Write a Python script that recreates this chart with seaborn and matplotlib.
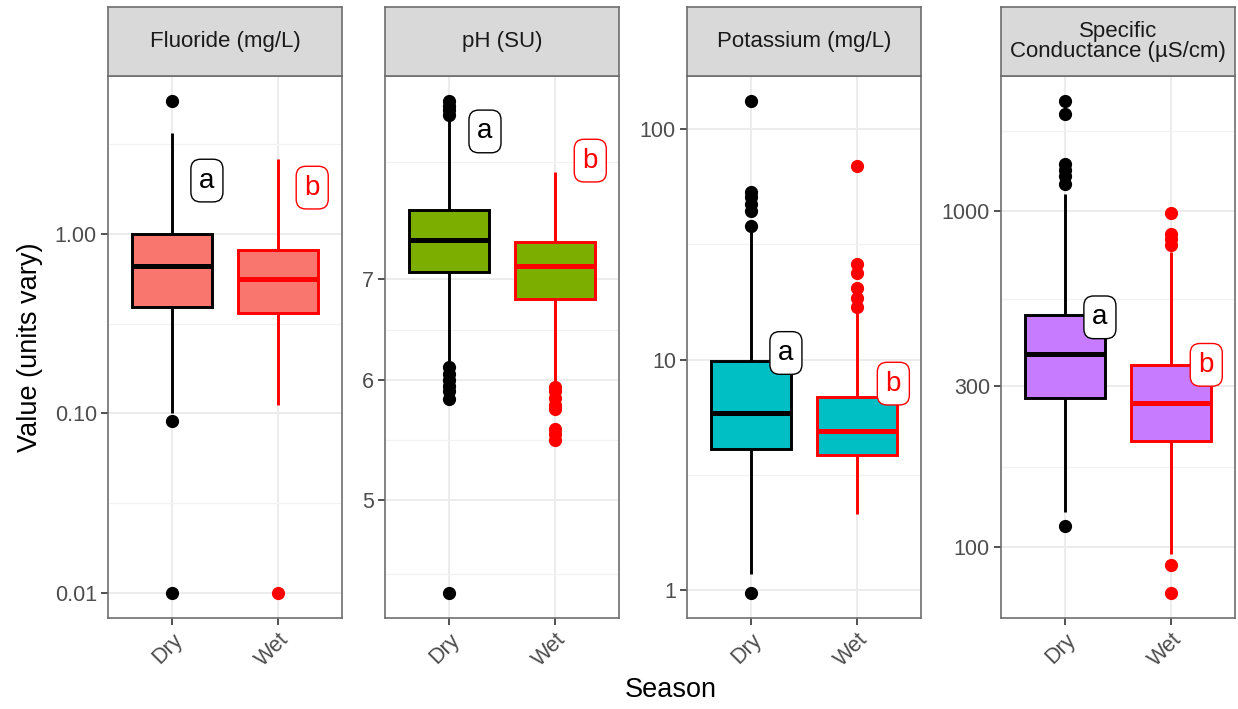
"""Season boxplots of four water-quality parameters, faceted ggplot-style."""

import matplotlib

matplotlib.use("Agg")

import matplotlib.pyplot as plt
import numpy as np
import pandas as pd
import seaborn as sns

SEASONS = ["Dry", "Wet"]
PANEL_TITLES = ["Fluoride (mg/L)", "pH (SU)", "Potassium (mg/L)", "Specific\nConductance (\u00b5S/cm)"]
FILLS = ["#F8766D", "#7CAE00", "#00BFC4", "#C77CFF"]
EDGES = ["black", "#FF0000"]

# (lower whisker, q1, median, q3, upper whisker) per season
fluoride_dry = [0.100, 0.393, 0.656, 0.99, 3.6]
fluoride_wet = [0.111, 0.36, 0.562, 0.805, 2.58]
ph_dry = [6.17, 7.07, 7.43, 7.77, 8.92]
ph_wet = [5.98, 6.79, 7.14, 7.40, 8.23]
potassium_dry = [1.18, 4.12, 5.85, 9.9, 36.2]
potassium_wet = [2.14, 3.85, 4.89, 6.92, 16.1]
cond_dry = [127, 278, 375, 490, 1120]
cond_wet = [95, 206, 267, 348, 756]

# outlying points
fluoride_dry_out = [0.01, 0.0903, 5.48]
fluoride_wet_out = [0.01]
ph_dry_out = [4.34, 5.83, 5.9, 5.95, 6.0, 6.06, 6.12, 8.98, 9.05, 9.1, 9.18]
ph_wet_out = [5.48, 5.53, 5.57, 5.74, 5.78, 5.84, 5.9, 5.94]
potassium_dry_out = [0.97, 38.1, 44.2, 47.4, 51.0, 53.4, 133]
potassium_wet_out = [16.9, 18.5, 20.5, 23.8, 26.0, 69]
cond_dry_out = [115, 1202, 1269, 1322, 1377, 1950, 2130]
cond_wet_out = [72.6, 88, 790, 826, 855, 987]

# significance letters: (x position, y value)
letter_text = ["a", "b"]
fluoride_letters = [(0.33, 1.97), (1.32, 1.8)]
ph_letters = [(0.34, 8.76), (1.33, 8.38)]
potassium_letters = [(0.33, 10.7), (1.34, 7.88)]
cond_letters = [(0.33, 482), (1.33, 348)]

# y breaks (labels) and the break sequence used for minor grid lines
fluoride_breaks = ([0.01, 0.1, 1.0], ["0.01", "0.10", "1.00"], [0.001, 0.01, 0.1, 1, 10])
ph_breaks = ([5, 6, 7], ["5", "6", "7"], [4, 5, 6, 7, 10])
potassium_breaks = ([1, 10, 100], ["1", "10", "100"], [0.1, 1, 10, 100, 1000])
cond_breaks = ([100, 300, 1000], ["100", "300", "1000"], [30, 100, 300, 1000, 3000])


def _sample(summary, outliers):
    """Smallest sample whose boxplot stats are exactly the given summary."""
    lo, q1, med, q3, hi = summary
    below = sorted(v for v in outliers if v < lo)
    above = sorted(v for v in outliers if v > hi)
    k = max(len(below), len(above)) + 1
    return (below + [lo] + [q1] * (k - len(below)) + [med] * k
            + [q3] * (2 * k - len(above) - 1) + [hi] + above)


def _log_limits(values, pad=0.05):
    lo, hi = np.log10(min(values)), np.log10(max(values))
    span = hi - lo
    return 10 ** (lo - pad * span), 10 ** (hi + pad * span)


sns.set_theme(style="white")
plt.rcParams["font.family"] = ["Liberation Sans", "DejaVu Sans"]

W, H = 1238, 709
fig = plt.figure(figsize=(W / 100, H / 100), dpi=100)

panels = [
    (fluoride_dry, fluoride_wet, fluoride_dry_out, fluoride_wet_out, fluoride_letters, fluoride_breaks),
    (ph_dry, ph_wet, ph_dry_out, ph_wet_out, ph_letters, ph_breaks),
    (potassium_dry, potassium_wet, potassium_dry_out, potassium_wet_out, potassium_letters, potassium_breaks),
    (cond_dry, cond_wet, cond_dry_out, cond_wet_out, cond_letters, cond_breaks),
]
lefts = [108, 385, 687, 1001]
pw, top, bottom, strip_top = 234, 76, 618, 7
border = "#6E6E6E"

for i, (dry, wet, dry_out, wet_out, letters, breaks) in enumerate(panels):
    ax = fig.add_axes([lefts[i] / W, (H - bottom) / H, pw / W, (bottom - top) / H])
    frame = pd.DataFrame({
        "Season": ["Dry"] * len(_sample(dry, dry_out)) + ["Wet"] * len(_sample(wet, wet_out)),
        "Value": _sample(dry, dry_out) + _sample(wet, wet_out),
    })
    for season, edge in zip(SEASONS, EDGES):
        sns.boxplot(
            data=frame[frame["Season"] == season], x="Season", y="Value", order=SEASONS,
            color=FILLS[i], saturation=1, linecolor=edge, linewidth=2.1, width=0.75,
            showcaps=False, fliersize=8.5, log_scale=True, ax=ax,
            flierprops={"marker": "o", "markerfacecolor": edge, "markeredgecolor": edge},
            medianprops={"linewidth": 3.6, "color": edge},
        )

    major, labels, extended = breaks
    minor = [np.sqrt(a * b) for a, b in zip(extended[:-1], extended[1:])]
    ax.set_yticks(major, labels)
    ax.set_yticks(minor, minor=True)
    ax.yaxis.set_minor_formatter(plt.NullFormatter())
    ax.set_ylim(*_log_limits(frame["Value"]))
    ax.set_xlim(-0.6, 1.6)
    ax.set_xlabel("")
    ax.set_ylabel("")
    ax.set_axisbelow(True)
    ax.grid(True, which="major", color="#EBEBEB", linewidth=1.3)
    ax.grid(True, which="minor", axis="y", color="#F2F2F2", linewidth=0.9)
    ax.tick_params(which="major", length=5, width=1.2, color="#333333",
                   labelsize=15.5, labelcolor="#4D4D4D", pad=3, left=True, bottom=True)
    ax.tick_params(which="minor", length=0)
    for lab in ax.get_xticklabels():
        lab.set_rotation(45)
        lab.set_ha("right")
        lab.set_va("top")
        lab.set_rotation_mode("anchor")
    for spine in ax.spines.values():
        spine.set_color(border)
        spine.set_linewidth(1.2)

    for (lx, ly), txt, edge in zip(letters, letter_text, EDGES):
        ax.text(lx, ly, txt, ha="center", va="center", fontsize=20, color=edge, zorder=5,
                bbox=dict(boxstyle="round,pad=0.3,rounding_size=0.35", fc="white", ec=edge, lw=1))

    strip = fig.add_axes([lefts[i] / W, (H - top) / H, pw / W, (top - strip_top) / H])
    strip.set_facecolor("#D9D9D9")
    strip.set_xticks([])
    strip.set_yticks([])
    for spine in strip.spines.values():
        spine.set_color(border)
        spine.set_linewidth(1.2)
    strip.text(0.5, 0.5, PANEL_TITLES[i], ha="center", va="center", fontsize=16,
               color="#1A1A1A", linespacing=0.95, transform=strip.transAxes)

fig.text(30 / W, (H - (top + bottom) / 2) / H, "Value (units vary)", rotation=90,
         ha="center", va="center", fontsize=19.5, color="black")
fig.text(671 / W, (H - 690) / H, "Season", ha="center", va="center", fontsize=19.5, color="black")

fig.savefig("out.png", dpi=100)
